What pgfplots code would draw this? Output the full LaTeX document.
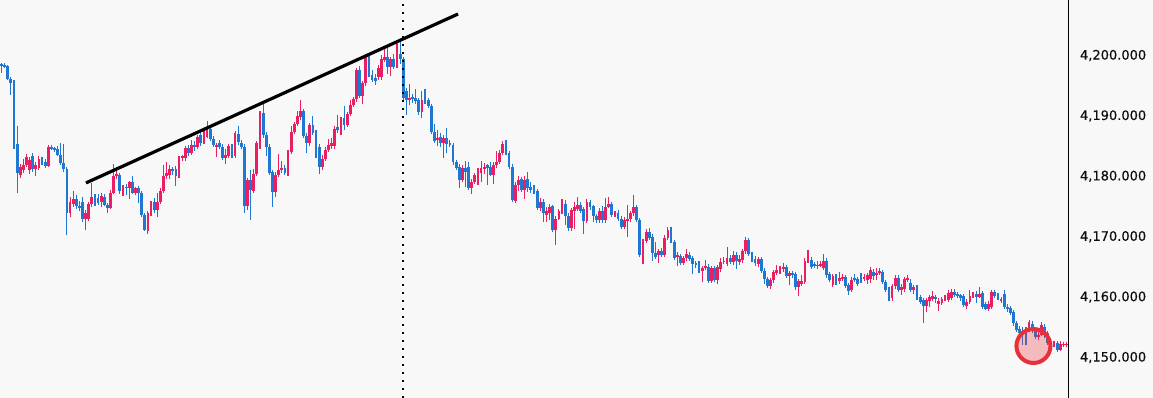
\documentclass[border=0pt]{standalone}
\usepackage{pgfplots}
\pgfplotsset{compat=1.18}
\usepackage{pgfplotstable}
\usepackage{fontspec}
\newfontfamily\tickfont{DejaVu Sans}[FakeBold=0.4]
\definecolor{upc}{HTML}{E91E63}
\definecolor{dnc}{HTML}{1E78D2}
\definecolor{bgc}{HTML}{F8F8F8}
\definecolor{circr}{HTML}{E8303A}
\pgfplotstableread{
o h l c
4198.6 4198.7 4197.1 4198.3
4198.4 4198.8 4198.0 4198.2
4198.2 4198.5 4196.0 4196.1
4196.1 4196.4 4193.5 4195.5
4195.5 4196.0 4184.6 4184.9
4185.3 4188.3 4177.2 4180.5
4180.2 4182.0 4179.7 4181.6
4181.0 4182.9 4180.6 4181.9
4181.9 4183.7 4181.5 4183.2
4181.0 4183.2 4180.4 4182.7
4183.3 4183.9 4180.8 4181.2
4181.2 4182.3 4180.0 4181.9
4181.3 4183.3 4181.0 4182.9
4182.9 4183.2 4181.8 4182.4
4182.4 4182.9 4181.3 4181.7
4181.7 4185.2 4181.5 4184.8
4184.8 4185.1 4184.3 4184.5
4184.6 4184.9 4184.1 4184.5
4184.5 4185.0 4183.4 4183.6
4183.6 4185.5 4181.8 4182.2
4182.2 4185.3 4180.8 4181.2
4181.2 4181.5 4170.3 4173.9
4173.9 4176.5 4173.3 4175.7
4175.5 4177.5 4175.0 4176.2
4176.2 4176.9 4174.6 4175.0
4175.0 4176.0 4174.3 4174.8
4175.8 4176.6 4172.5 4173.0
4173.0 4174.5 4171.1 4174.0
4173.0 4175.8 4172.6 4175.4
4175.4 4178.9 4175.0 4176.6
4176.6 4177.0 4175.0 4175.4
4176.4 4177.0 4175.2 4175.6
4175.8 4177.2 4175.0 4176.7
4176.6 4177.0 4175.0 4175.3
4175.3 4175.6 4174.0 4174.8
4174.8 4177.7 4174.6 4177.3
4177.3 4182.0 4177.0 4180.0
4180.0 4181.6 4179.6 4180.4
4180.2 4180.6 4177.1 4177.6
4177.1 4178.5 4176.8 4178.0
4178.3 4178.8 4176.9 4178.0
4178.1 4179.3 4176.2 4179.1
4179.1 4180.0 4177.0 4177.3
4177.3 4178.3 4176.9 4178.0
4178.0 4178.4 4175.6 4177.3
4177.3 4177.6 4173.2 4173.6
4173.6 4174.0 4170.9 4171.1
4170.9 4174.3 4170.5 4173.9
4173.9 4176.0 4173.5 4175.7
4175.7 4176.4 4173.9 4174.4
4174.4 4177.3 4173.2 4175.8
4175.8 4178.0 4175.5 4177.6
4177.6 4181.8 4177.3 4180.0
4180.0 4182.4 4179.5 4180.5
4180.3 4181.8 4179.5 4181.2
4181.2 4181.6 4180.3 4180.9
4181.2 4181.7 4178.4 4180.0
4180.0 4183.3 4179.7 4183.0
4183.0 4183.6 4182.5 4183.3
4183.0 4185.0 4182.5 4184.7
4184.7 4185.2 4183.4 4183.9
4183.9 4186.0 4183.5 4185.2
4185.2 4185.9 4184.2 4184.8
4184.8 4186.8 4184.5 4186.5
4186.8 4187.2 4185.0 4185.6
4185.6 4188.0 4185.3 4186.5
4186.5 4189.2 4186.3 4188.0
4187.8 4188.3 4185.9 4186.2
4186.2 4186.6 4184.8 4185.2
4184.9 4185.6 4183.2 4185.2
4185.5 4186.0 4184.5 4184.9
4184.9 4185.3 4182.7 4183.0
4183.1 4184.5 4182.0 4183.5
4183.4 4185.4 4183.0 4185.0
4185.0 4185.4 4183.0 4183.4
4183.4 4187.5 4183.0 4187.1
4187.0 4188.3 4185.2 4185.6
4185.6 4186.0 4184.5 4184.9
4184.9 4185.3 4174.0 4175.1
4175.1 4179.7 4174.5 4179.4
4179.4 4181.0 4172.8 4177.8
4177.6 4181.2 4177.2 4180.4
4180.4 4185.8 4180.0 4185.5
4185.5 4190.9 4184.6 4190.5
4190.5 4192.0 4186.4 4186.8
4186.8 4187.4 4183.3 4184.9
4184.9 4185.3 4180.2 4180.5
4180.7 4181.1 4175.0 4177.4
4177.4 4180.7 4176.5 4180.2
4180.2 4183.7 4179.8 4181.0
4181.0 4182.6 4180.5 4181.4
4181.4 4181.8 4180.2 4180.6
4180.4 4184.4 4180.0 4184.0
4184.0 4188.3 4183.7 4187.4
4187.4 4189.0 4187.0 4188.6
4188.6 4190.8 4188.3 4190.0
4189.8 4192.6 4189.4 4190.8
4190.8 4191.2 4186.4 4186.7
4186.7 4187.1 4183.8 4185.5
4185.5 4188.9 4185.0 4188.5
4188.5 4190.0 4186.8 4187.2
4187.2 4187.6 4183.0 4184.9
4184.9 4185.3 4180.3 4181.5
4181.5 4183.5 4181.0 4182.9
4182.9 4184.8 4182.5 4184.4
4184.4 4186.2 4184.0 4185.2
4185.0 4186.3 4184.6 4185.6
4185.0 4188.3 4184.6 4187.9
4188.2 4190.2 4187.2 4187.6
4187.6 4189.8 4186.8 4189.3
4189.6 4191.6 4187.6 4188.5
4188.5 4190.7 4188.1 4190.3
4190.3 4192.6 4190.0 4191.8
4191.8 4193.2 4191.4 4192.8
4192.8 4198.0 4192.3 4197.6
4197.6 4198.2 4193.0 4193.3
4193.3 4195.8 4191.9 4195.4
4195.4 4200.3 4195.0 4199.7
4199.7 4200.0 4196.4 4196.8
4196.8 4197.6 4195.6 4196.0
4196.3 4196.9 4195.2 4195.8
4196.4 4198.4 4196.0 4197.9
4196.4 4200.0 4196.0 4199.5
4199.2 4201.4 4199.0 4199.8
4199.7 4201.4 4197.0 4198.1
4198.1 4199.8 4196.6 4199.4
4199.4 4200.3 4197.8 4198.1
4198.4 4202.0 4198.0 4200.1
4200.2 4202.2 4198.6 4199.5
4199.5 4199.8 4192.5 4192.9
4194.2 4194.6 4190.1 4192.6
4192.6 4195.3 4191.8 4193.0
4193.1 4193.6 4192.2 4192.8
4192.9 4194.5 4192.0 4192.5
4192.7 4193.0 4190.2 4190.6
4190.7 4194.2 4189.7 4192.6
4192.8 4194.4 4192.0 4192.4
4192.7 4193.0 4191.3 4191.6
4191.7 4192.0 4187.0 4187.4
4187.4 4188.6 4185.5 4185.9
4186.0 4187.7 4185.0 4186.4
4186.5 4187.1 4184.8 4185.5
4185.5 4186.9 4183.0 4186.4
4186.4 4188.0 4183.8 4185.4
4185.5 4186.0 4184.8 4185.3
4185.2 4185.5 4181.9 4182.3
4182.3 4182.7 4181.0 4181.4
4181.6 4182.0 4178.0 4179.4
4179.4 4181.8 4179.0 4181.3
4181.4 4182.6 4178.3 4180.8
4181.6 4182.3 4177.7 4178.1
4178.1 4179.6 4177.0 4179.0
4179.0 4180.6 4178.7 4180.2
4180.0 4181.4 4178.5 4180.8
4180.6 4182.6 4179.0 4181.3
4181.3 4182.2 4180.4 4181.6
4181.8 4182.0 4178.5 4181.4
4181.6 4182.4 4180.0 4180.3
4180.3 4182.3 4178.8 4181.9
4181.8 4184.2 4181.4 4182.3
4182.3 4184.3 4182.0 4183.9
4183.9 4185.9 4183.5 4185.4
4185.4 4186.0 4183.6 4183.9
4183.9 4184.2 4181.2 4181.6
4181.6 4182.0 4175.8 4176.1
4175.9 4179.0 4175.5 4178.6
4178.6 4180.0 4177.6 4179.4
4179.5 4179.9 4177.4 4177.7
4177.7 4180.1 4176.3 4179.4
4179.5 4180.7 4177.4 4178.0
4178.2 4179.0 4177.2 4177.7
4177.9 4178.5 4177.0 4177.6
4177.6 4177.9 4174.4 4174.7
4174.7 4176.4 4174.2 4175.8
4175.8 4176.2 4172.5 4173.9
4173.6 4174.9 4172.5 4174.2
4174.0 4175.4 4172.8 4174.9
4175.0 4175.3 4170.8 4171.1
4171.1 4173.4 4168.6 4173.0
4173.0 4174.6 4172.7 4174.2
4174.1 4176.2 4173.8 4175.4
4175.4 4176.1 4172.0 4173.4
4173.4 4173.9 4171.0 4171.4
4171.4 4174.8 4171.0 4174.4
4174.3 4175.7 4171.2 4174.9
4174.6 4176.6 4174.3 4175.3
4175.3 4175.7 4173.9 4174.3
4174.6 4175.0 4170.5 4172.6
4172.6 4176.3 4172.2 4175.7
4175.7 4176.1 4174.5 4174.9
4175.0 4175.3 4172.5 4173.4
4173.5 4173.8 4172.3 4172.7
4172.7 4174.7 4172.3 4174.3
4174.3 4175.0 4172.3 4172.7
4172.7 4176.4 4172.3 4175.0
4175.0 4176.6 4174.7 4175.4
4175.4 4175.8 4173.2 4173.6
4173.6 4174.3 4173.2 4173.9
4173.9 4174.4 4172.6 4173.0
4173.0 4173.4 4171.2 4171.6
4171.6 4173.2 4171.2 4172.8
4172.7 4175.3 4170.0 4173.0
4172.9 4174.3 4172.5 4173.9
4173.9 4176.9 4173.5 4175.0
4175.0 4175.3 4172.4 4172.8
4172.8 4173.1 4166.6 4166.9
4166.9 4169.7 4165.5 4169.3
4169.3 4171.2 4169.0 4170.8
4170.7 4171.5 4169.4 4169.7
4170.0 4170.4 4166.0 4167.3
4167.3 4169.2 4166.3 4166.7
4166.9 4168.0 4165.7 4167.6
4167.7 4168.2 4166.6 4167.0
4167.0 4170.2 4166.6 4169.8
4169.8 4171.6 4169.4 4171.1
4171.1 4171.6 4169.0 4169.3
4169.2 4169.5 4166.2 4166.5
4166.6 4167.4 4165.2 4166.9
4166.8 4167.1 4165.3 4165.6
4165.6 4166.8 4165.3 4166.4
4166.4 4168.0 4166.0 4167.2
4167.0 4167.4 4166.0 4166.3
4166.4 4166.8 4163.8 4165.4
4165.6 4166.0 4164.8 4165.3
4165.5 4165.9 4164.0 4164.4
4164.4 4165.2 4162.5 4164.8
4164.8 4166.2 4164.5 4165.1
4165.0 4165.4 4162.3 4162.7
4162.7 4165.2 4162.3 4164.8
4164.8 4165.2 4162.5 4162.9
4162.9 4165.3 4162.1 4164.9
4164.6 4166.5 4164.2 4165.8
4165.8 4166.6 4165.5 4166.0
4165.5 4168.3 4165.1 4166.5
4166.5 4167.0 4165.4 4165.8
4165.8 4167.6 4165.4 4166.9
4167.0 4167.4 4164.6 4166.0
4165.8 4166.9 4165.4 4166.3
4166.1 4168.0 4165.7 4167.6
4167.6 4170.0 4167.2 4169.4
4169.4 4169.8 4166.8 4167.1
4167.1 4167.5 4165.8 4166.1
4166.3 4166.8 4165.2 4165.6
4165.4 4166.7 4165.0 4166.3
4166.3 4166.7 4164.0 4164.4
4164.4 4164.8 4162.2 4163.0
4163.0 4163.3 4161.5 4161.9
4161.8 4163.2 4161.3 4162.8
4162.8 4164.5 4162.4 4164.1
4164.0 4165.3 4163.6 4164.5
4164.3 4165.2 4163.9 4164.8
4164.6 4165.7 4164.2 4165.0
4164.9 4165.3 4163.1 4163.5
4163.5 4164.4 4162.0 4164.0
4164.0 4164.4 4163.2 4163.6
4163.8 4164.2 4161.2 4161.6
4161.6 4163.0 4160.2 4162.6
4162.2 4163.6 4161.8 4162.7
4162.5 4166.4 4162.1 4166.0
4165.9 4167.8 4165.6 4166.2
4166.2 4166.6 4164.6 4165.0
4165.4 4165.8 4164.8 4165.2
4165.1 4165.9 4164.7 4165.4
4165.3 4166.0 4165.0 4165.5
4164.9 4167.1 4164.5 4166.0
4166.0 4166.4 4163.2 4163.6
4163.8 4164.2 4162.5 4162.9
4162.0 4163.9 4161.6 4163.5
4163.5 4163.9 4162.0 4162.4
4162.6 4164.2 4162.2 4163.1
4163.0 4163.8 4162.6 4163.3
4163.3 4163.7 4161.5 4161.9
4162.0 4162.4 4160.4 4161.0
4161.2 4163.3 4160.8 4162.9
4163.2 4163.9 4162.5 4162.9
4163.0 4163.4 4161.8 4162.1
4163.5 4164.0 4162.4 4162.8
4163.0 4163.9 4162.6 4163.3
4162.8 4164.0 4162.2 4163.6
4163.0 4165.0 4162.3 4164.5
4164.2 4164.6 4162.8 4163.5
4163.6 4164.8 4162.9 4164.0
4164.0 4164.8 4163.7 4164.3
4164.1 4164.5 4162.1 4162.5
4162.5 4162.9 4160.8 4161.2
4161.2 4161.6 4159.4 4159.8
4159.8 4162.2 4159.4 4161.8
4161.8 4163.6 4161.4 4163.2
4163.2 4163.6 4160.8 4161.1
4161.2 4162.1 4160.4 4161.7
4161.3 4163.4 4160.9 4163.0
4162.9 4163.7 4162.5 4163.2
4162.4 4163.0 4160.8 4161.2
4161.1 4162.0 4160.6 4161.7
4161.6 4162.0 4159.5 4159.9
4160.0 4160.4 4158.8 4159.2
4159.5 4159.9 4155.8 4158.5
4158.5 4159.9 4157.5 4159.5
4159.3 4160.4 4158.4 4160.0
4159.7 4161.0 4159.4 4160.1
4160.0 4160.4 4159.0 4159.8
4158.8 4159.8 4157.7 4159.3
4159.1 4160.0 4158.7 4159.6
4159.6 4160.3 4159.3 4159.9
4159.6 4161.1 4159.2 4160.7
4159.9 4161.4 4159.5 4160.9
4160.9 4161.3 4160.0 4160.4
4160.5 4160.8 4159.8 4160.2
4160.3 4160.6 4159.3 4159.9
4160.1 4160.6 4158.3 4158.7
4158.6 4159.6 4158.0 4159.2
4159.2 4161.2 4158.8 4160.2
4160.1 4160.8 4159.8 4160.4
4160.6 4161.0 4159.0 4160.1
4160.1 4161.6 4159.8 4160.6
4160.6 4161.0 4158.0 4158.4
4158.9 4159.2 4157.8 4158.1
4158.1 4159.3 4157.7 4158.9
4158.4 4161.2 4158.0 4160.8
4160.8 4161.2 4159.8 4160.1
4160.3 4160.7 4159.6 4160.0
4159.4 4160.0 4159.1 4159.6
4160.6 4161.2 4158.0 4158.3
4158.4 4158.8 4157.6 4158.0
4158.2 4158.6 4157.0 4157.4
4157.5 4157.9 4155.3 4155.7
4155.7 4156.1 4154.2 4154.6
4154.8 4155.2 4153.6 4154.0
4154.4 4155.0 4152.0 4154.0
4154.6 4155.0 4152.0 4154.0
4154.6 4156.2 4154.2 4155.9
4155.6 4156.0 4154.0 4154.4
4154.5 4155.0 4153.0 4153.4
4153.4 4154.2 4152.9 4153.8
4153.8 4155.8 4153.5 4155.4
4155.1 4155.5 4153.3 4153.7
4154.0 4154.4 4152.0 4152.4
4152.4 4152.8 4151.2 4152.0
4152.1 4152.8 4151.8 4152.4
4152.4 4152.8 4150.9 4151.3
4151.3 4152.7 4151.0 4152.3
4152.0 4152.6 4151.7 4152.3
4152.0 4152.5 4151.8 4152.3
}\candles
\begin{document}
\begin{tikzpicture}
\useasboundingbox (0,0) rectangle (1153pt,398pt);
\fill[bgc] (0,0) rectangle (1153pt,398pt);
\begin{axis}[
  at={(0pt,0pt)}, anchor=south west,
  scale only axis, width=1068pt, height=398pt,
  xmin=-0.5, xmax=342.5, ymin=4143.29, ymax=4209.19,
  hide x axis, axis y line*=right,
  axis line style={black, line width=0.9pt},
  ytick={4150,4160,4170,4180,4190,4200},
  yticklabels={{4,150.000},{4,160.000},{4,170.000},{4,180.000},{4,190.000},{4,200.000}},
  major tick length=0pt,
  yticklabel style={font=\tickfont\fontsize{13}{15}\selectfont, text=black!95, anchor=west},
  yticklabel shift=8.5pt,
  candle/.style={draw=none, no markers,
    error bars/y dir=both, error bars/y explicit, error bars/error mark=none},
]
% wicks
\addplot[candle, restrict expr to domain={\thisrow{c}-\thisrow{o}}{0:1000},
  error bars/error bar style={draw=upc, line width=1.1pt}]
  table[x expr=\coordindex, y expr={(\thisrow{h}+\thisrow{l})/2}, y error expr={(\thisrow{h}-\thisrow{l})/2}] {\candles};
\addplot[candle, restrict expr to domain={\thisrow{o}-\thisrow{c}}{0.001:1000},
  error bars/error bar style={draw=dnc, line width=1.1pt}]
  table[x expr=\coordindex, y expr={(\thisrow{h}+\thisrow{l})/2}, y error expr={(\thisrow{h}-\thisrow{l})/2}] {\candles};
% bodies
\addplot[candle, restrict expr to domain={\thisrow{c}-\thisrow{o}}{0:1000},
  error bars/error bar style={draw=upc, line width=2.8pt}]
  table[x expr=\coordindex, y expr={(\thisrow{o}+\thisrow{c})/2}, y error expr={max(abs(\thisrow{c}-\thisrow{o})/2,0.13)}] {\candles};
\addplot[candle, restrict expr to domain={\thisrow{o}-\thisrow{c}}{0.001:1000},
  error bars/error bar style={draw=dnc, line width=2.8pt}]
  table[x expr=\coordindex, y expr={(\thisrow{o}+\thisrow{c})/2}, y error expr={max(abs(\thisrow{c}-\thisrow{o})/2,0.13)}] {\candles};
% dotted vertical line
\addplot[black, line width=2.2pt, dash pattern=on 2.2pt off 5.8pt] coordinates {(128.9,4143.29) (128.9,4209.19)};
% trend line
\addplot[black, line width=3.2pt] coordinates {(27.1,4178.9) (146.6,4206.87)};
% circle
\addplot[only marks, mark=*, mark size=17pt, mark options={draw=circr, line width=4pt, fill=circr, fill opacity=0.3}] coordinates {(331.4,4151.9)};
\end{axis}
\end{tikzpicture}
\end{document}
